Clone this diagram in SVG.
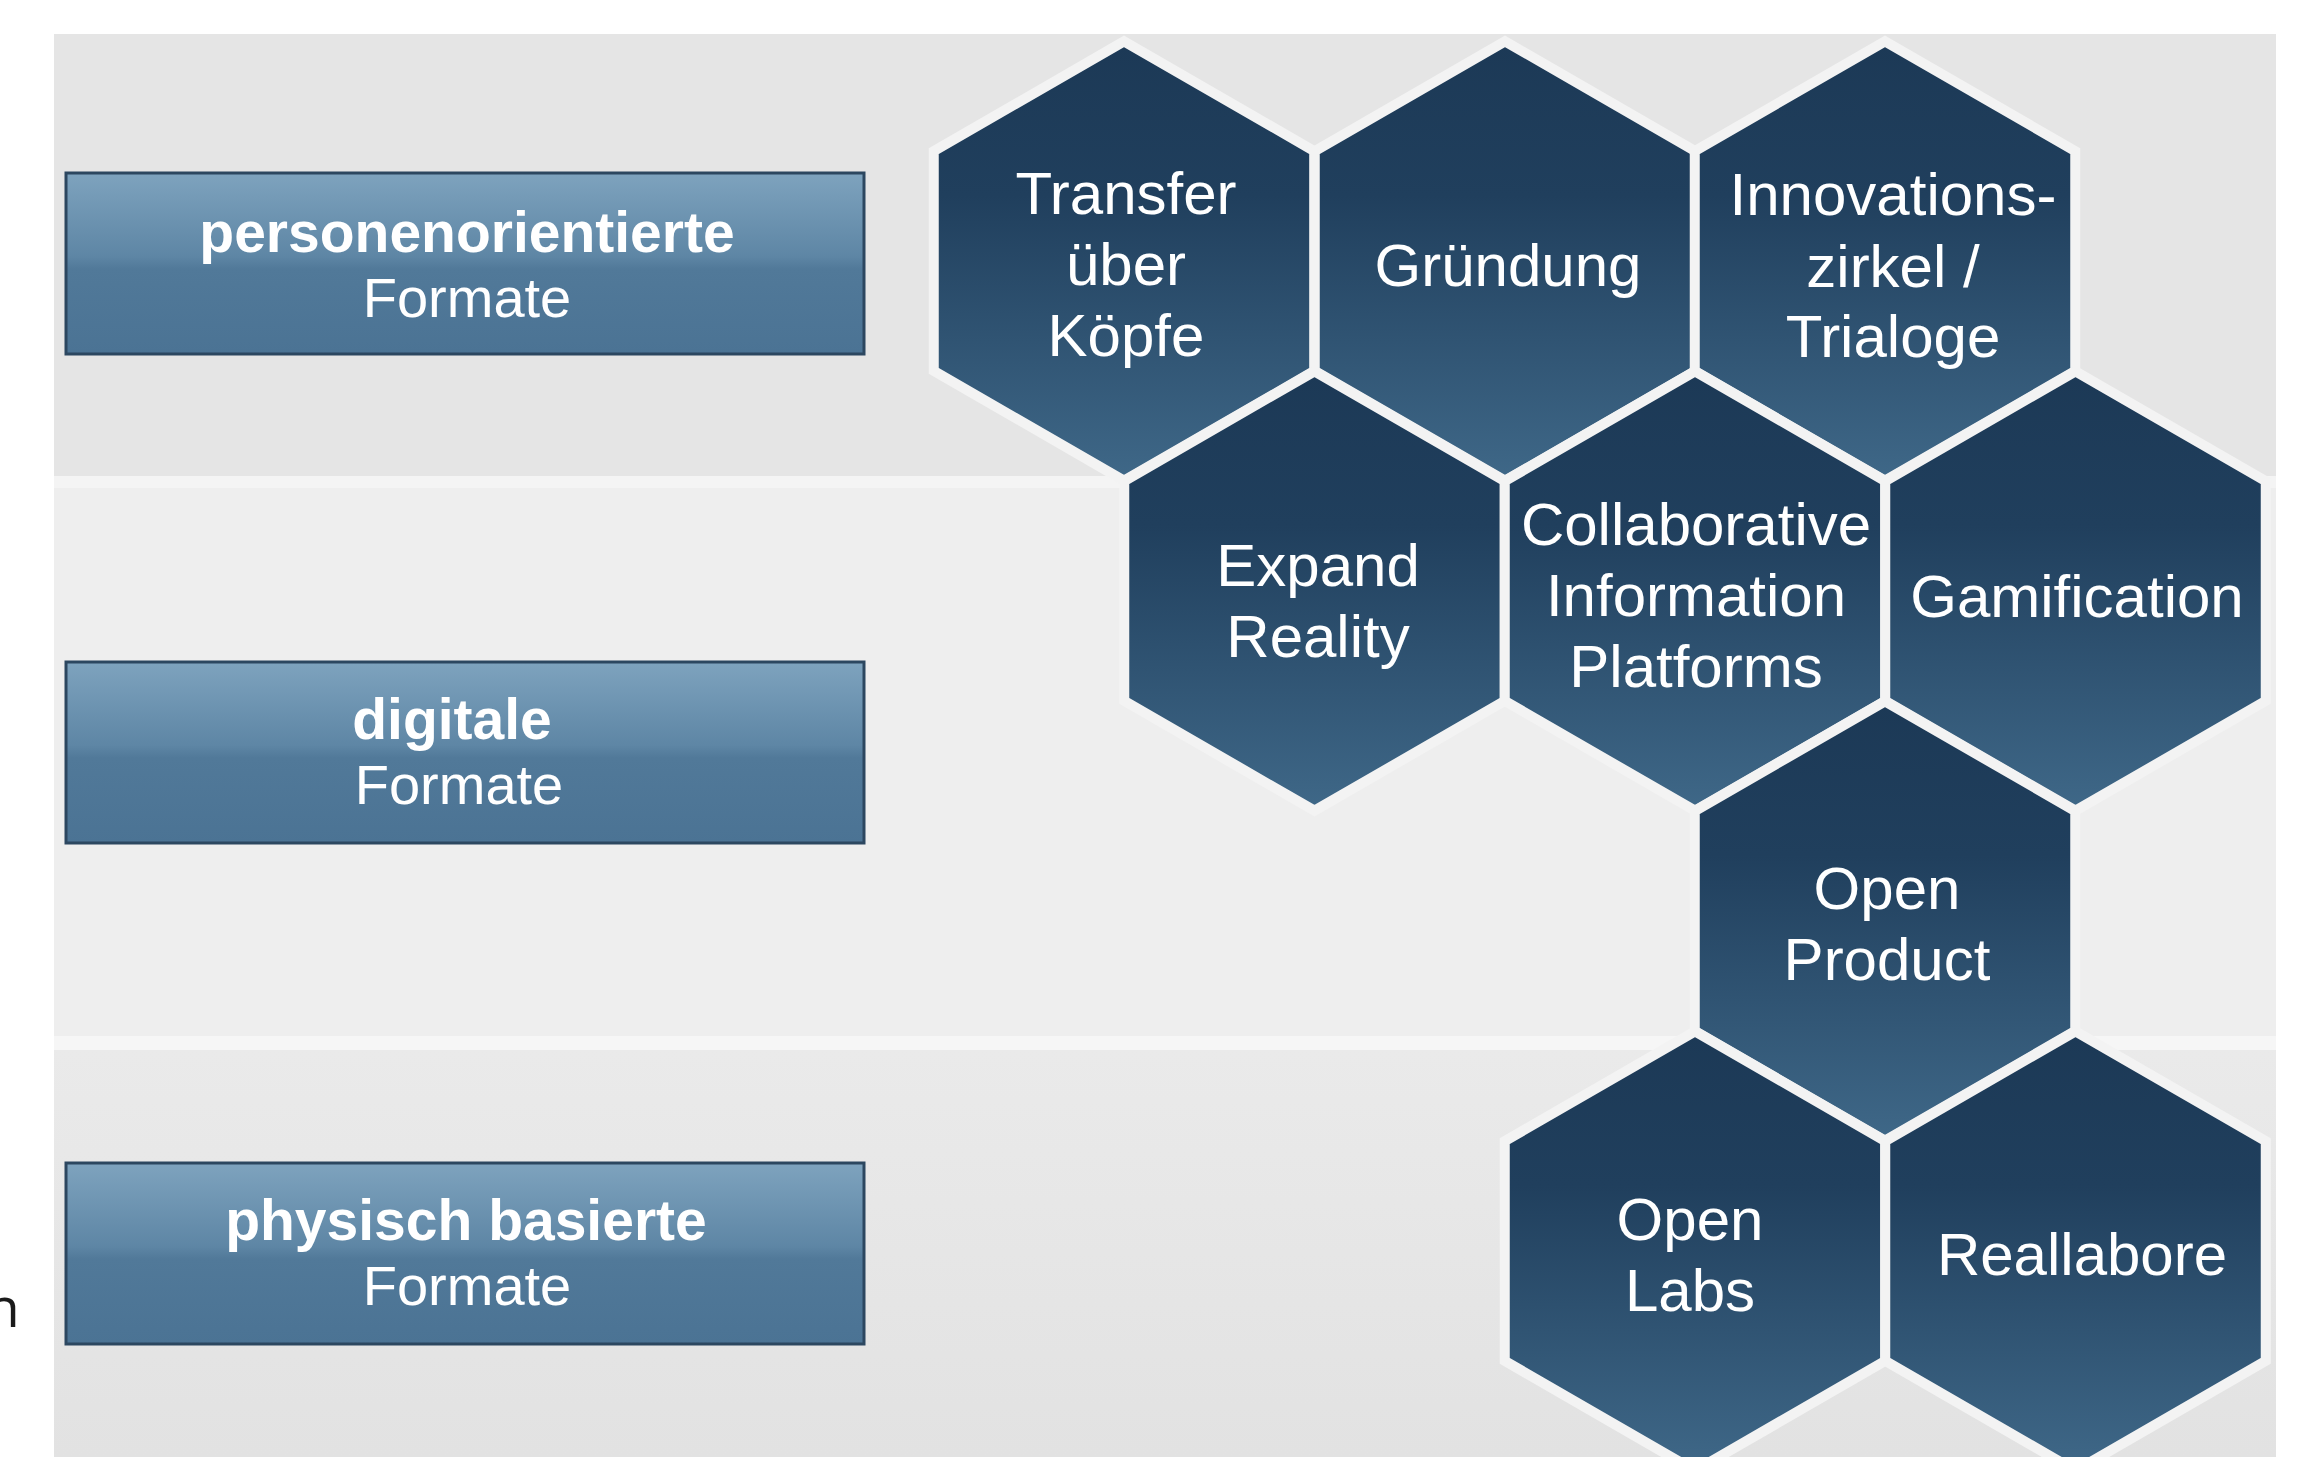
<svg xmlns="http://www.w3.org/2000/svg" xmlns:xlink="http://www.w3.org/1999/xlink" width="2305" height="1457" viewBox="0 0 2305 1457">
  <style>
    .lbl { font-family: "Liberation Sans", Arial, Helvetica, sans-serif; fill: #ffffff; text-anchor: middle; }
    .hx { font-size: 60px; }
    .bx { font-size: 56px; }
    .b { font-weight: bold; font-size: 57px; }
    .box { fill: url(#boxGrad); stroke: #2c4760; stroke-width: 3; }
    .hexshape { fill: url(#hexGrad); stroke: #f3f3f3; stroke-width: 10; stroke-linejoin: miter; }
  </style>
  <defs>
    <linearGradient id="hexGrad" x1="0" y1="0" x2="0" y2="1">
      <stop offset="0" stop-color="#1c3956"/>
      <stop offset="0.35" stop-color="#203f5d"/>
      <stop offset="1" stop-color="#3f6888"/>
    </linearGradient>
    <linearGradient id="boxGrad" x1="0" y1="0" x2="0" y2="1">
      <stop offset="0" stop-color="#7ea3be"/>
      <stop offset="0.46" stop-color="#5e86a5"/>
      <stop offset="0.53" stop-color="#517999"/>
      <stop offset="1" stop-color="#4b7394"/>
    </linearGradient>
    <linearGradient id="botBand" x1="0" y1="0" x2="0" y2="1">
      <stop offset="0" stop-color="#eaeaea"/>
      <stop offset="1" stop-color="#e2e2e2"/>
    </linearGradient>
    <polygon id="hex" points="0,-219.7 190.25,-109.85 190.25,109.85 0,219.7 -190.25,109.85 -190.25,-109.85"/>
  </defs>

  <rect x="0" y="0" width="2305" height="1457" fill="#ffffff"/>

  <g id="background">
    <rect x="54" y="34" width="2222" height="442" fill="#e5e5e5"/>
    <rect x="54" y="476" width="2222" height="12" fill="#f4f4f4"/>
    <rect x="54" y="488" width="2222" height="548" fill="#eeeeee"/>
    <rect x="54" y="1036" width="2222" height="14" fill="#f6f6f6"/>
    <rect x="54" y="1050" width="2222" height="407" fill="url(#botBand)"/>
  </g>

  <text x="-14" y="1327" font-family="'Open Sans', 'DejaVu Sans', sans-serif" font-size="55" fill="#1a1a1a">n</text>

  <g id="box-personen">
    <rect class="box" x="66" y="173" width="798" height="181"/>
    <text class="lbl b" x="467" y="252">personenorientierte</text>
    <text class="lbl bx" x="467" y="317">Formate</text>
  </g>
  <g id="box-digitale">
    <rect class="box" x="66" y="662" width="798" height="181"/>
    <text class="lbl b" x="452" y="739">digitale</text>
    <text class="lbl bx" x="459" y="804">Formate</text>
  </g>
  <g id="box-physisch">
    <rect class="box" x="66" y="1163" width="798" height="181"/>
    <text class="lbl b" x="466" y="1240">physisch basierte</text>
    <text class="lbl bx" x="467" y="1305">Formate</text>
  </g>

  <g id="connectors"></g>

  <g id="hex-transfer">
    <use href="#hex" class="hexshape" x="1124" y="261"/>
    <text class="lbl hx" x="1126" y="214">Transfer</text>
    <text class="lbl hx" x="1126" y="285">über</text>
    <text class="lbl hx" x="1126" y="356">Köpfe</text>
  </g>
  <g id="hex-gruendung">
    <use href="#hex" class="hexshape" x="1505" y="261"/>
    <text class="lbl hx" x="1508" y="286">Gründung</text>
  </g>
  <g id="hex-innovations">
    <use href="#hex" class="hexshape" x="1885" y="261"/>
    <text class="lbl hx" x="1893" y="215">Innovations-</text>
    <text class="lbl hx" x="1893" y="287">zirkel /</text>
    <text class="lbl hx" x="1893" y="357">Trialoge</text>
  </g>
  <g id="hex-expand">
    <use href="#hex" class="hexshape" x="1314.5" y="591"/>
    <text class="lbl hx" x="1318" y="586">Expand</text>
    <text class="lbl hx" x="1318" y="657">Reality</text>
  </g>
  <g id="hex-collaborative">
    <use href="#hex" class="hexshape" x="1695" y="591"/>
    <text class="lbl hx" x="1696" y="545">Collaborative</text>
    <text class="lbl hx" x="1696" y="616">Information</text>
    <text class="lbl hx" x="1696" y="687">Platforms</text>
  </g>
  <g id="hex-gamification">
    <use href="#hex" class="hexshape" x="2075.5" y="591"/>
    <text class="lbl hx" x="2077" y="617">Gamification</text>
  </g>
  <g id="hex-openproduct">
    <use href="#hex" class="hexshape" x="1885" y="921"/>
    <text class="lbl hx" x="1887" y="909">Open</text>
    <text class="lbl hx" x="1887" y="980">Product</text>
  </g>
  <g id="hex-openlabs">
    <use href="#hex" class="hexshape" x="1695" y="1251"/>
    <text class="lbl hx" x="1690" y="1240">Open</text>
    <text class="lbl hx" x="1690" y="1311">Labs</text>
  </g>
  <g id="hex-reallabore">
    <use href="#hex" class="hexshape" x="2075.5" y="1251"/>
    <text class="lbl hx" x="2082" y="1275">Reallabore</text>
  </g>
</svg>
